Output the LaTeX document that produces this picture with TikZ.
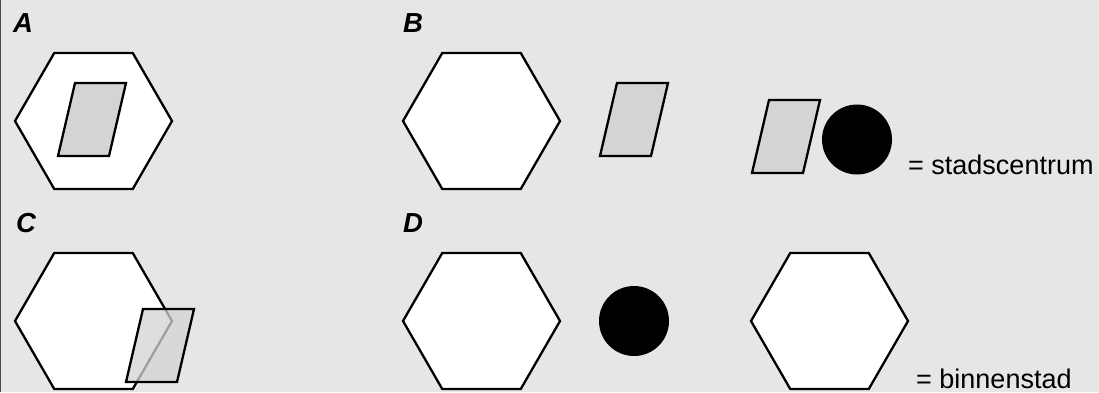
\documentclass[tikz,border=0pt]{standalone}
\usepackage{fontspec}
\setmainfont{Liberation Sans}
\usetikzlibrary{calc}
\begin{document}
\begin{tikzpicture}[x=1pt,y=-1pt,
  hexa/.style={draw=black,fill=white,line width=2.3pt,line join=miter},
  para/.style={draw=black,fill=parafill,line width=2.3pt,line join=miter},
  blob/.style={fill=black,draw=none},
  lbl/.style={anchor=base west,inner sep=0pt,font=\fontsize{27.5}{30}\selectfont\bfseries\itshape},
  legtext/.style={anchor=base west,inner sep=0pt,font=\fontsize{27}{30}\selectfont}]
\definecolor{bgcol}{HTML}{E6E6E6}
\definecolor{parafill}{HTML}{D4D4D4}
\definecolor{edgecol}{HTML}{4A4A4A}
\newcommand{\hexat}[3][]{%
  \draw[hexa,#1] ($(#2,#3)+(-78.5,0)$) -- ++(39.25,-68) -- ++(78.5,0) -- ++(39.25,68) -- ++(-39.25,68) -- ++(-78.5,0) -- cycle;}
\newcommand{\paraat}[3][]{%
  \draw[para,#1] (#2,#3) -- ++(51,0) -- ++(17,-73) -- ++(-51,0) -- cycle;}
\useasboundingbox (0,0) rectangle (1099,392);
\fill[bgcol] (0,0) rectangle (1099,392);
\draw[edgecol,line width=1pt] (0.5,0) -- (0.5,392);
% labels
\node[lbl] (la) at (13,32) {A};
\node[lbl] (lb) at (403,32) {B};
\node[lbl] (lc) at (16,232) {C};
\node[lbl] (ld) at (403,232) {D};
% A
\hexat{93.5}{121}
\paraat{58}{156}
% B
\hexat{481.5}{121}
\paraat{600}{156}
% legend city centre
\paraat{752}{173}
\fill[blob] (857,139.5) circle (35);
\node[legtext] (t1) at (908,174) {= stadscentrum};
% C
\hexat{93.5}{321}
\paraat[fill opacity=0.75]{126}{382}
% D
\hexat{481.5}{321}
\fill[blob] (634,321) circle (35);
\hexat{829.5}{321}
\node[legtext] (t2) at (916,388) {= binnenstad};
\end{tikzpicture}
\end{document}
